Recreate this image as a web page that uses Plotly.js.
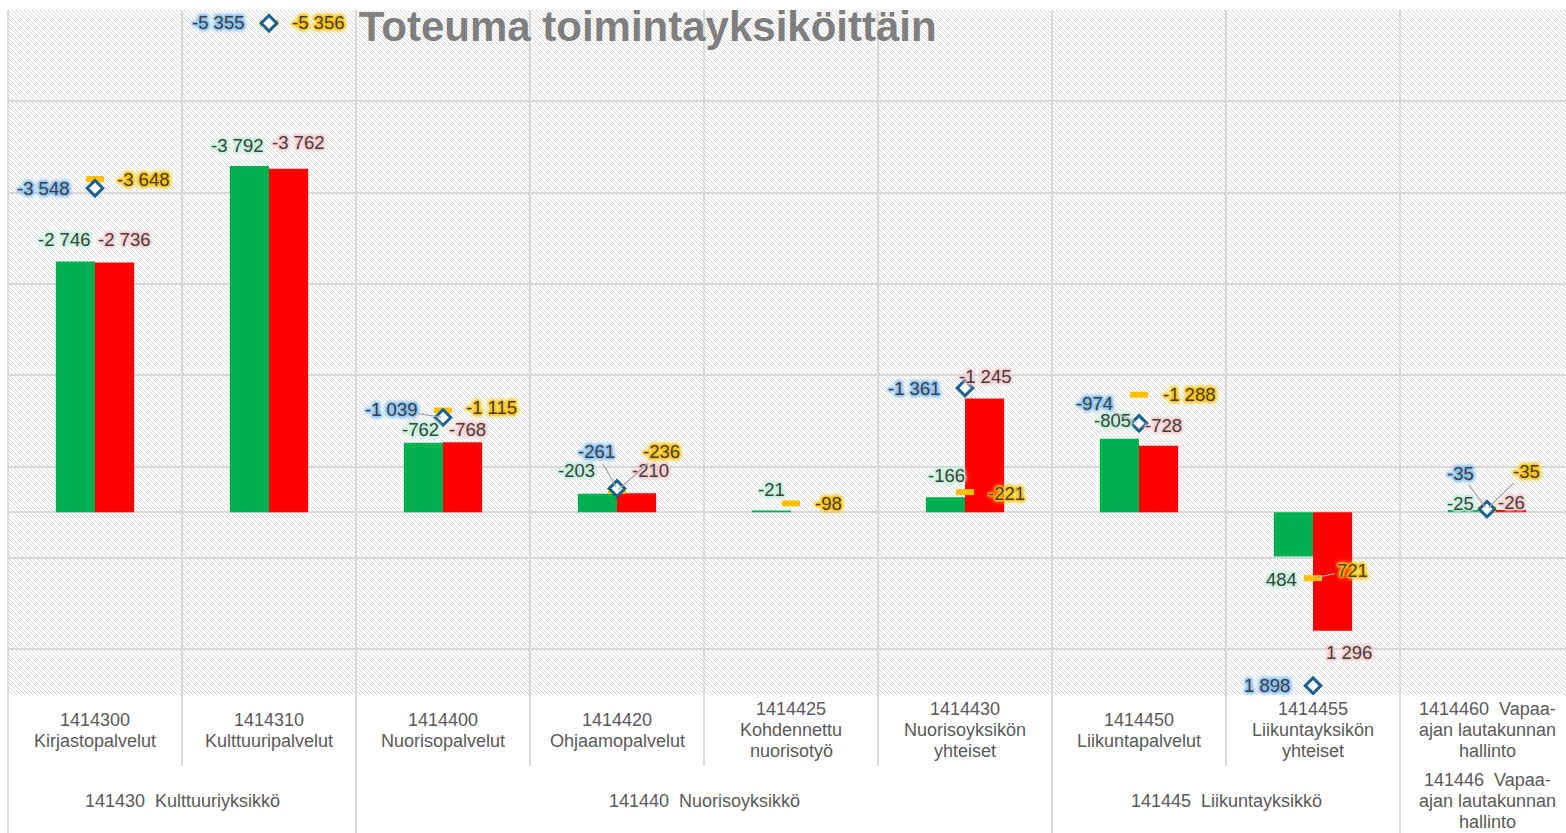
<!DOCTYPE html>
<html>
<head>
<meta charset="utf-8">
<script src="https://cdn.plot.ly/plotly-3.0.1.min.js"></script>
<style>
  html, body { margin: 0; padding: 0; background: #ffffff; }
  #chart { width: 1566px; height: 833px; }
</style>
</head>
<body>
<div id="chart"></div>
<script>
// ---------- DATA ----------
const categories = ['1414300', '1414310', '1414400', '1414420', '1414425', '1414430', '1414450', '1414455', '1414460'];
const categoryLabels = [
  '1414300<br>Kirjastopalvelut',
  '1414310<br>Kulttuuripalvelut',
  '1414400<br>Nuorisopalvelut',
  '1414420<br>Ohjaamopalvelut',
  '1414425<br>Kohdennettu<br>nuorisotyö',
  '1414430<br>Nuorisoyksikön<br>yhteiset',
  '1414450<br>Liikuntapalvelut',
  '1414455<br>Liikuntayksikön<br>yhteiset',
  '1414460\u00a0 Vapaa-<br>ajan lautakunnan<br>hallinto'
];
const groupLabels = [
  '141430\u00a0 Kulttuuriyksikkö',
  '141440\u00a0 Nuorisoyksikkö',
  '141445\u00a0 Liikuntayksikkö',
  '141446\u00a0 Vapaa-<br>ajan lautakunnan<br>hallinto'
];
const groupSizes = [2, 4, 2, 1];

const seriesGreen  = [-2746, -3792, -762, -203, -21, -166, -805, 484, -25];
const seriesRed    = [-2736, -3762, -768, -210, null, -1245, -728, 1296, -26];
const seriesBlue   = [-3548, -5355, -1039, -261, null, -1361, -974, 1898, -35];
const seriesYellow = [-3648, -5356, -1115, -236, -98, -221, -1288, 721, -35];

// ---------- LABEL PLACEMENT (pixel offsets of each value label, styling only) ----------
const offGreen  = [[-31,-22],[-32,-21],[-23,-13],[-41,-23],[-20,-21],[-19,-22],[-27,-18],[-32,23],[-27,-7]];
const offRed    = [[29,-23],[29,-26],[24,-13],[33,-23],null,[20,-22],[24,-20],[36,22],[24,-7]];
const offBlue   = [[-52,0],[-51,-1],[-52,-8],[-21,-37],null,[-51,0],[-45,-20],[-46,0],[-27,-36]];
const offYellow = [[48,0],[49,-1],[48,-3],[44,-39],[37,0],[41,1],[50,0],[39,-8],[39,-38]];
const leaderBlue = [2, 3, 6, 8];
const leaderYellow = [3, 7, 8];

// ---------- STYLE ----------
const FONT = 'Liberation Sans, Arial, sans-serif';
const GRID = '#D9D9D9';
const C_GREEN = '#00B050', C_RED = '#FF0000', C_BLUE = '#17608F', C_YELLOW = '#FFC000';
const GLOW_GREEN = '#BFF0D6', GLOW_RED = '#F8CACA', GLOW_BLUE = '#86BFF2', GLOW_YELLOW = '#FFC000';

function fmt(v) {
  const s = Math.abs(v).toString().replace(/\B(?=(\d{3})+(?!\d))/g, ' ');
  return (v < 0 ? '-' : '') + s;
}
function glow(c) {
  return [`0 0 1px ${c}`, `0 0 1px ${c}`, `0 0 2px ${c}`, `0 0 2px ${c}`, `0 0 2px ${c}`,
          `0 0 3px ${c}`, `0 0 3px ${c}`, `0 0 4px ${c}`, `0 0 4px ${c}`, `0 0 5px ${c}`,
          `0 0 6px ${c}`].join(', ');
}

const traces = [
  { type: 'bar', name: 'Toteuma', x: categories, y: seriesGreen,
    marker: { color: C_GREEN }, hoverinfo: 'y' },
  { type: 'bar', name: 'Toteuma vertailu', x: categories, y: seriesRed,
    marker: { color: C_RED }, hoverinfo: 'y' },
  { type: 'scatter', mode: 'markers', name: 'Ennuste', x: categories, y: seriesYellow,
    marker: { symbol: 'line-ew', size: 13, color: C_YELLOW, line: { color: C_YELLOW, width: 6 } },
    hoverinfo: 'y' },
  { type: 'scatter', mode: 'markers', name: 'Budjetti', x: categories, y: seriesBlue,
    marker: { symbol: 'diamond', size: 12, color: '#FFFFFF', line: { color: C_BLUE, width: 3 } },
    hoverinfo: 'y' }
];

const annotations = [];
function addLabels(vals, offs, glowColor, leaders) {
  vals.forEach((v, i) => {
    if (v === null || offs[i] === null) return;
    const lead = leaders.indexOf(i) >= 0;
    annotations.push({
      x: i, y: v, xref: 'x', yref: 'y',
      text: fmt(v), showarrow: true, arrowhead: 0, arrowwidth: 1.2, standoff: 2,
      arrowcolor: lead ? '#A6A6A6' : 'rgba(0,0,0,0)',
      ax: offs[i][0], ay: offs[i][1],
      font: { family: FONT, size: 18.5, color: '#404040', shadow: glow(glowColor) }
    });
  });
}
addLabels(seriesGreen, offGreen, GLOW_GREEN, []);
addLabels(seriesRed, offRed, GLOW_RED, []);
addLabels(seriesBlue, offBlue, GLOW_BLUE, leaderBlue);
addLabels(seriesYellow, offYellow, GLOW_YELLOW, leaderYellow);

// axis labels: each text line placed with Excel-like 21px line spacing
const PLOT_TOP = 10, PLOT_H = 685;
const LINE_H = 21;
function paperY(px) { return -(px - (PLOT_TOP + PLOT_H)) / PLOT_H; }
function addAxisText(xPos, centerPx, text) {
  const lines = text.split('<br>');
  lines.forEach((ln, k) => {
    const py = centerPx + (k - (lines.length - 1) / 2) * LINE_H;
    annotations.push({
      x: xPos, y: paperY(py), xref: 'x', yref: 'paper', text: ln, showarrow: false,
      yanchor: 'middle', xanchor: 'center', align: 'center',
      font: { family: FONT, size: 18, color: '#595959' }
    });
  });
}
categoryLabels.forEach((t, i) => addAxisText(i, 730, t));
let start = 0;
const groupBounds = [];
groupLabels.forEach((t, g) => {
  const n = groupSizes[g];
  addAxisText(start + (n - 1) / 2, 801, t);
  start += n;
  groupBounds.push(start - 0.5);
});

// separators / vertical gridlines
const shapes = [];
shapes.push({ type: 'line', xref: 'paper', yref: 'paper', x0: 0, x1: 0, y0: 1, y1: paperY(833),
  line: { color: GRID, width: 2 }, layer: 'below' });
for (let i = 1; i < categories.length; i++) {
  const b = i - 0.5;
  const long = groupBounds.indexOf(b) >= 0;
  shapes.push({ type: 'line', xref: 'x', yref: 'paper', x0: b, x1: b, y0: 1,
    y1: long ? paperY(833) : paperY(766), line: { color: GRID, width: 2 }, layer: 'below' });
}

// hatched plot background
const W = 1558, H = PLOT_H;
const svg = `<svg xmlns="http://www.w3.org/2000/svg" width="${W}" height="${H}" viewBox="0 0 ${W} ${H}" preserveAspectRatio="none">` +
  `<defs><pattern id="p" width="4" height="4" patternUnits="userSpaceOnUse">` +
  `<rect width="4" height="4" fill="#ffffff"/>` +
  `<path d="M0,0 L4,4 M-1,3 L1,5 M3,-1 L5,1" stroke="#D8D8D8" stroke-width="1"/></pattern></defs>` +
  `<rect width="${W}" height="${H}" fill="url(#p)"/></svg>`;
const bgSrc = 'data:image/svg+xml;base64,' + btoa(svg);

const layout = {
  width: 1566, height: 833,
  margin: { l: 8, r: 0, t: PLOT_TOP, b: 833 - PLOT_TOP - PLOT_H, autoexpand: false },
  paper_bgcolor: '#FFFFFF', plot_bgcolor: 'rgba(0,0,0,0)',
  font: { family: FONT, color: '#404040' },
  title: {
    text: '<b>Toteuma toimintayksiköittäin</b>',
    x: 643 / 1566, xanchor: 'center', xref: 'paper',
    y: 1 - 26 / 833, yanchor: 'middle', yref: 'container',
    font: { family: FONT, size: 42, color: '#7F7F7F' }
  },
  showlegend: false,
  barmode: 'group', bargap: 0.55, bargroupgap: 0,
  xaxis: {
    type: 'category', range: [-0.5, 8.5 - 8 / 174], showticklabels: false,
    showgrid: false, zeroline: false, showline: false, ticks: '', fixedrange: true
  },
  yaxis: {
    range: [2000, -5500], tick0: -5500, dtick: 1000, showticklabels: false,
    showgrid: true, gridcolor: GRID, gridwidth: 2,
    zeroline: true, zerolinecolor: GRID, zerolinewidth: 2, showline: false, ticks: '', fixedrange: true
  },
  images: [{ source: bgSrc, xref: 'paper', yref: 'paper', x: 0, y: 1, sizex: 1, sizey: 1,
    sizing: 'stretch', xanchor: 'left', yanchor: 'top', layer: 'below' }],
  shapes: shapes,
  annotations: annotations
};

Plotly.newPlot('chart', traces, layout, { displayModeBar: false, staticPlot: true });
</script>
</body>
</html>
